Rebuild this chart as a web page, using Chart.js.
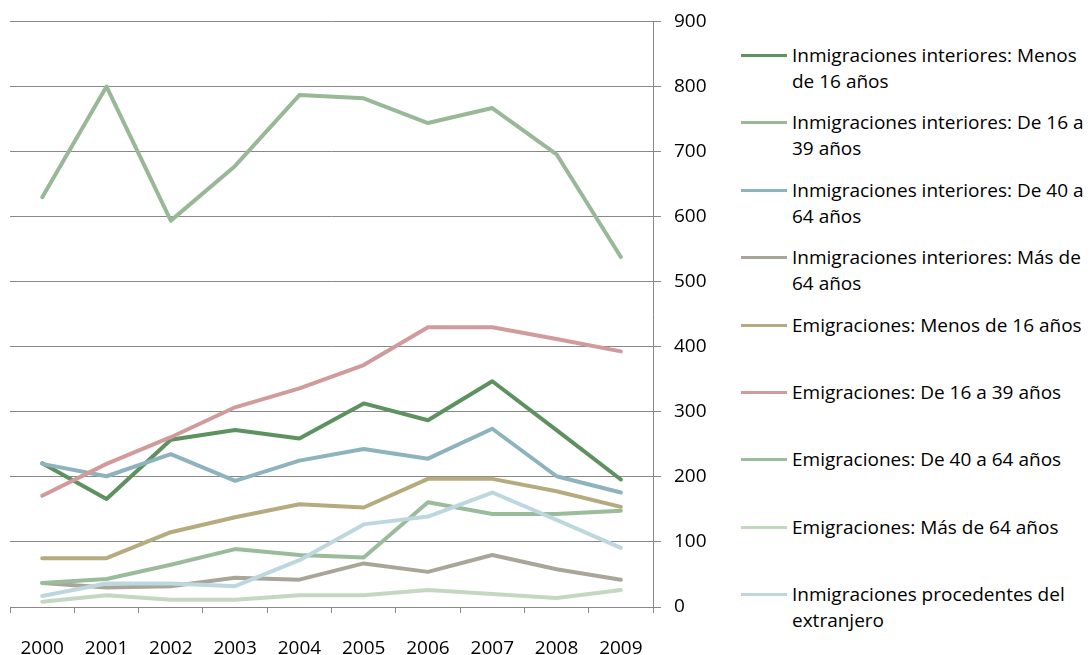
<!DOCTYPE html>
<html>
<head>
<meta charset="utf-8">
<script src="https://cdn.jsdelivr.net/npm/chart.js@4"></script>
<style>
    body { margin: 0; background: #fff; }
    #wrap { position: relative; width: 1091px; height: 655px; }
    #chartBox { position: absolute; left: 0; top: 0; width: 733px; height: 655px; }
    #legend { position: absolute; left: 741px; top: 42px; font-family: 'Open Sans', sans-serif; font-size: 19px; color: #000; }
    .item { display: flex; align-items: flex-start; height: 67.4px; }
    .swatch { width: 46px; height: 3px; margin-top: 12px; flex: none; }
    .text { margin-left: 5px; width: 298px; line-height: 26px; }
</style>
</head>
<body>
<div id="wrap">
    <div id="chartBox"><canvas id="migrChart"></canvas></div>
    <div id="legend"></div>
</div>
<script>
// Data
const years = ['2000', '2001', '2002', '2003', '2004', '2005', '2006', '2007', '2008', '2009'];
const yTicks = [0, 100, 200, 300, 400, 500, 600, 700, 800, 900];

const inmIntMenos16 = [221, 166, 257, 272, 259, 313, 287, 347, 272, 196];
const inmInt16a39 = [630, 800, 594, 678, 787, 782, 744, 767, 696, 538];
const inmInt40a64 = [220, 201, 235, 194, 225, 243, 228, 274, 201, 176];
const inmIntMas64 = [37, 30, 32, 45, 42, 67, 54, 80, 58, 42];
const emiMenos16 = [75, 75, 115, 138, 158, 153, 197, 197, 178, 154];
const emi16a39 = [171, 220, 261, 307, 336, 372, 430, 430, 412, 393];
const emi40a64 = [37, 43, 65, 89, 80, 76, 161, 143, 143, 148];
const emiMas64 = [8, 18, 11, 11, 18, 18, 26, 20, 14, 26];
const inmExtranjero = [17, 36, 36, 32, 72, 127, 139, 176, 134, 91];

const seriesLabels = [
    'Inmigraciones interiores: Menos de 16 años',
    'Inmigraciones interiores: De 16 a 39 años',
    'Inmigraciones interiores: De 40 a 64 años',
    'Inmigraciones interiores: Más de 64 años',
    'Emigraciones: Menos de 16 años',
    'Emigraciones: De 16 a 39 años',
    'Emigraciones: De 40 a 64 años',
    'Emigraciones: Más de 64 años',
    'Inmigraciones procedentes del extranjero'
];
const seriesData = [inmIntMenos16, inmInt16a39, inmInt40a64, inmIntMas64, emiMenos16, emi16a39, emi40a64, emiMas64, inmExtranjero];
const seriesColors = ['#5d9160', '#98b898', '#8db3bd', '#a9a699', '#b5ab7e', '#d19b9b', '#9bbc9b', '#c4d8c1', '#bdd7df'];

const gridColor = '#888888';

Chart.defaults.font.family = "'Open Sans', sans-serif";
Chart.defaults.font.size = 19;
Chart.defaults.color = '#000';

const datasets = seriesData.map((d, i) => ({
    label: seriesLabels[i],
    data: d,
    borderColor: seriesColors[i],
    backgroundColor: seriesColors[i],
    borderWidth: 4,
    pointRadius: 0,
    borderJoinStyle: 'round',
    borderCapStyle: 'round',
    tension: 0,
    order: seriesData.length - i // later series drawn on top
}));

const chart = new Chart(document.getElementById('migrChart').getContext('2d'), {
    type: 'line',
    data: { labels: years, datasets: datasets },
    options: {
        responsive: true,
        maintainAspectRatio: false,
        animation: false,
        layout: { padding: { left: 10, top: 21, right: 0, bottom: 0 } },
        plugins: { legend: { display: false }, tooltip: { enabled: false } },
        scales: {
            x: {
                offset: true,
                grid: { display: true, offset: true, drawOnChartArea: false, drawTicks: true, tickLength: 6, color: gridColor, lineWidth: 1 },
                border: { display: true, color: gridColor, width: 1 },
                ticks: { padding: 20, maxRotation: 0, autoSkip: false, font: { size: 19, lineHeight: 1.6 } },
                afterFit: (scale) => { scale.height = 48; }
            },
            y: {
                position: 'right',
                min: 0,
                max: 900,
                afterBuildTicks: (scale) => { scale.ticks = yTicks.map(v => ({ value: v })); },
                grid: { color: gridColor, lineWidth: 1, tickLength: 8 },
                border: { display: true, color: gridColor, width: 1 },
                ticks: { padding: 13, font: { size: 19, lineHeight: 0.9 } },
                afterFit: (scale) => { scale.width = 80; }
            }
        }
    }
});

// HTML legend (wraps long labels)
const legendEl = document.getElementById('legend');
chart.data.datasets.forEach(ds => {
    const item = document.createElement('div');
    item.className = 'item';
    const sw = document.createElement('div');
    sw.className = 'swatch';
    sw.style.background = ds.borderColor;
    const tx = document.createElement('div');
    tx.className = 'text';
    tx.textContent = ds.label;
    item.appendChild(sw);
    item.appendChild(tx);
    legendEl.appendChild(item);
});
</script>
</body>
</html>
